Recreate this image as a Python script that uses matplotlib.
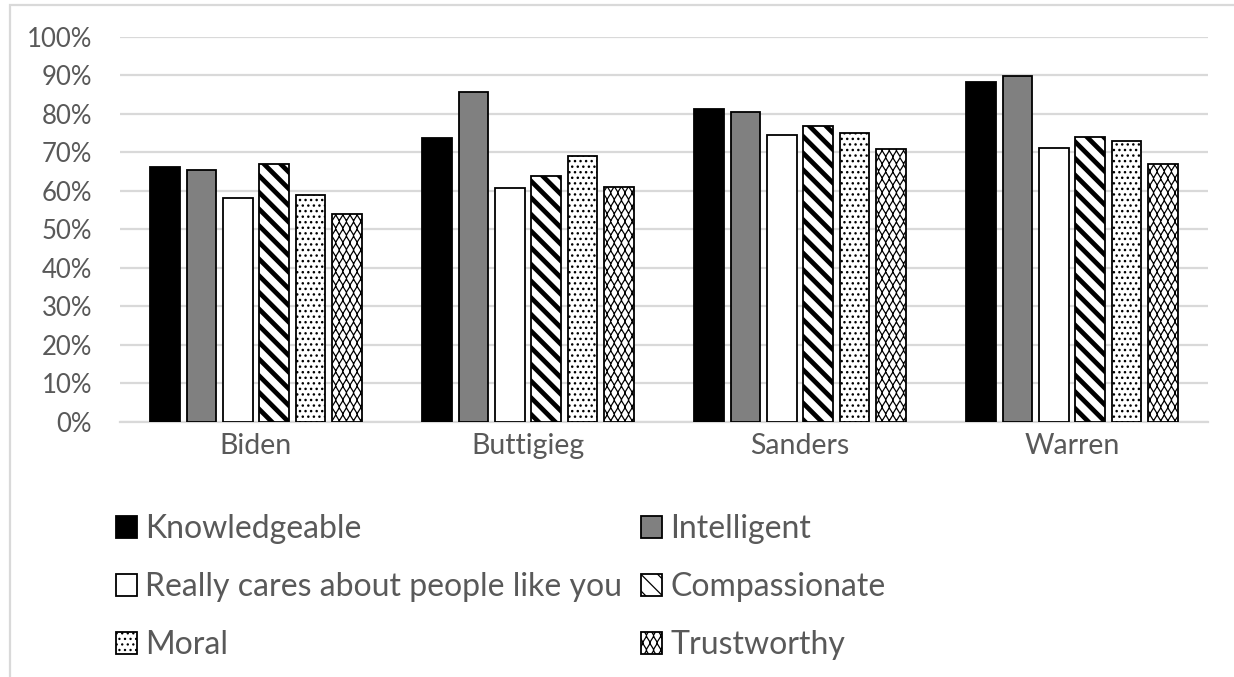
import warnings
import numpy as np
import matplotlib
matplotlib.use("Agg")
import matplotlib.pyplot as plt
import matplotlib.hatch as mhatch
from matplotlib.patches import Rectangle
from matplotlib.path import Path

warnings.filterwarnings("ignore")

candidates = ["Biden", "Buttigieg", "Sanders", "Warren"]
traits = ["Knowledgeable", "Intelligent", "Really cares about people like you",
          "Compassionate", "Moral", "Trustworthy"]

knowledgeable = [66.2, 73.6, 81.3, 88.2]
intelligent = [65.3, 85.6, 80.5, 89.9]
really_cares = [58.2, 60.7, 74.4, 71.2]
compassionate = [66.9, 63.8, 76.8, 73.9]
moral = [58.9, 68.9, 74.9, 73.0]
trustworthy = [53.9, 61.0, 70.9, 67.0]

yticks = [0, 10, 20, 30, 40, 50, 60, 70, 80, 90, 100]


class WaveHatch(mhatch.HatchPatternBase):
    """Interlocking zigzag rows, triggered by '~' in a hatch string."""

    def __init__(self, hatch, density):
        self.rows = 14 if "~" in hatch else 0
        self.steps = 28
        self.num_vertices = self.rows * self.steps * 2

    def set_vertices_and_codes(self, vertices, codes):
        amp = 0.8 / self.rows
        idx = 0
        for r in range(self.rows):
            base = (r + 0.1) / self.rows
            for k in range(self.steps):
                y0 = base + (amp if (k + r) % 2 else 0.0)
                y1 = base + (amp if (k + 1 + r) % 2 else 0.0)
                vertices[idx] = (k / self.steps, y0)
                vertices[idx + 1] = ((k + 1) / self.steps, y1)
                codes[idx] = Path.MOVETO
                codes[idx + 1] = Path.LINETO
                idx += 2


mhatch._hatch_types.append(WaveHatch)

font = "Lato"
text_gray = "#595959"
grid_gray = "#d9d9d9"

fig = plt.figure(figsize=(12.34, 6.77), dpi=100)
ax = fig.add_axes([120 / 1234, 1 - 421.7 / 677, (1208 - 120) / 1234, (421.7 - 36.7) / 677])

series = [knowledgeable, intelligent, really_cares, compassionate, moral, trustworthy]
styles = [
    dict(facecolor="black", hatch=None, hlw=1.0),
    dict(facecolor="#808080", hatch=None, hlw=1.0),
    dict(facecolor="white", hatch=None, hlw=1.0),
    dict(facecolor="white", hatch="\\\\", hlw=3.4),
    dict(facecolor="white", hatch="...", hlw=1.0),
    dict(facecolor="white", hatch="~", hlw=0.9),
]

x = np.arange(len(candidates))
pitch = 0.1335
width = 0.109
handles = []
for i, (vals, st) in enumerate(zip(series, styles)):
    offs = (i - 2.5) * pitch
    plt.rcParams["hatch.linewidth"] = st["hlw"]
    bars = ax.bar(x + offs, vals, width, facecolor=st["facecolor"], edgecolor="black",
                  linewidth=1.3, hatch=st["hatch"], label=traits[i], zorder=3)
    for b in bars:
        if hasattr(b, "set_hatch_linewidth"):
            b.set_hatch_linewidth(st["hlw"])
    handles.append(bars)

ax.set_xlim(-0.5, 3.5)
ax.set_ylim(0, 100)
ax.set_yticks(yticks)
ax.set_yticklabels([f"{v}%" for v in yticks], fontfamily=font, fontsize=18.5, color=text_gray)
ax.set_xticks(x)
ax.set_xticklabels(candidates, fontfamily=font, fontsize=20.5, color=text_gray)
ax.tick_params(axis="y", length=0, pad=20)
ax.tick_params(axis="x", length=0, pad=8)
ax.grid(axis="y", color=grid_gray, linewidth=1.6, zorder=0)
for side in ["top", "right", "left"]:
    ax.spines[side].set_visible(False)
ax.spines["bottom"].set_color(grid_gray)
ax.spines["bottom"].set_linewidth(1.6)

order = [0, 2, 4, 1, 3, 5]
leg = fig.legend([handles[i] for i in order], [traits[i] for i in order],
                 ncol=2, loc="upper left", bbox_to_anchor=(116 / 1234, 1 - 514 / 677),
                 frameon=False, prop={"family": font, "size": 23},
                 labelcolor=text_gray, handlelength=0.66, handleheight=0.66,
                 handletextpad=0.25, columnspacing=0.6, labelspacing=0.88,
                 borderaxespad=0, borderpad=0)

# chart area border
fig.patches.append(Rectangle((10 / 1234, -0.05), 1.1, 1 - 5 / 677 + 0.05,
                             transform=fig.transFigure, fill=False,
                             edgecolor=grid_gray, linewidth=1.6))

fig.savefig("out.png", dpi=100)
